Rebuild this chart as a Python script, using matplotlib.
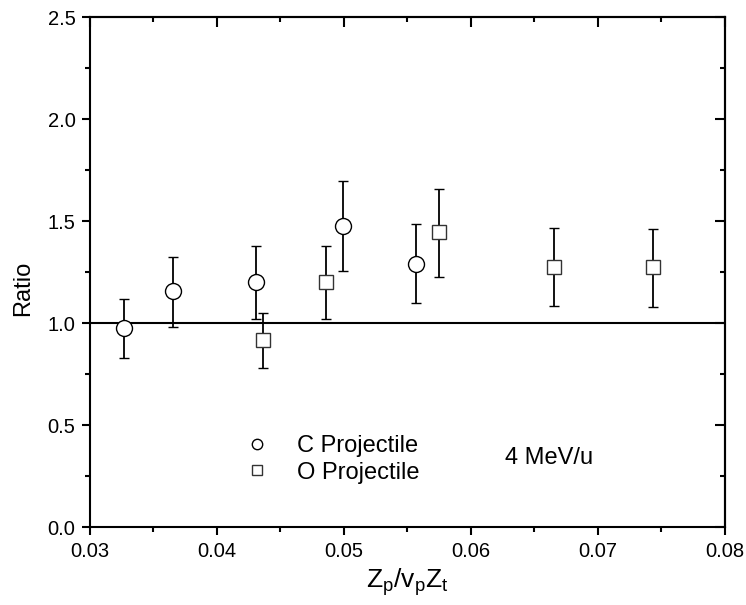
import matplotlib
matplotlib.use("Agg")
import matplotlib.pyplot as plt
from matplotlib.ticker import MultipleLocator

plt.rcParams["font.family"] = ["Liberation Sans", "DejaVu Sans"]
plt.rcParams["mathtext.default"] = "regular"
plt.rcParams["xtick.labelsize"] = 14.5
plt.rcParams["ytick.labelsize"] = 14.5

# C projectile
c_x = [0.0327, 0.0365, 0.0431, 0.0499, 0.0557]
c_y = [0.974, 1.155, 1.201, 1.477, 1.291]
c_lo = [0.828, 0.980, 1.020, 1.256, 1.100]
c_hi = [1.118, 1.325, 1.379, 1.698, 1.484]

# O projectile
o_x = [0.0436, 0.0486, 0.0575, 0.0665, 0.0743]
o_y = [0.915, 1.201, 1.445, 1.275, 1.273]
o_lo = [0.778, 1.020, 1.225, 1.083, 1.078]
o_hi = [1.050, 1.379, 1.657, 1.464, 1.461]

ref_level = 1.0
x_ticks = [0.03, 0.04, 0.05, 0.06, 0.07, 0.08]
y_ticks = [0.0, 0.5, 1.0, 1.5, 2.0, 2.5]


def err(y, lo, hi):
    return [[v - l for v, l in zip(y, lo)], [h - v for v, h in zip(y, hi)]]


def main():
    fig = plt.figure(figsize=(7.46, 6.05), dpi=100)
    ax = fig.add_axes([0.1206, 0.1289, 0.8512, 0.843])

    ax.axhline(ref_level, color="k", linewidth=1.5, zorder=1)

    c_eb = ax.errorbar(
        c_x, c_y, yerr=err(c_y, c_lo, c_hi),
        fmt="o", markersize=11.5, markerfacecolor="white", markeredgecolor="k",
        markeredgewidth=1.0, ecolor="k", elinewidth=1.3, capsize=3.6,
        capthick=1.3, zorder=3,
    )
    o_eb = ax.errorbar(
        o_x, o_y, yerr=err(o_y, o_lo, o_hi),
        fmt="s", markersize=10, markerfacecolor="white", markeredgecolor="#333333",
        markeredgewidth=1.0, ecolor="k", elinewidth=1.3, capsize=3.6,
        capthick=1.3, zorder=3,
    )

    ax.set_xlim(0.03, 0.08)
    ax.set_ylim(0.0, 2.5)
    ax.set_xticks(x_ticks)
    ax.set_yticks(y_ticks)
    ax.xaxis.set_minor_locator(MultipleLocator(0.005))
    ax.yaxis.set_minor_locator(MultipleLocator(0.25))
    ax.set_xticklabels([f"{v:.2f}" for v in x_ticks])
    ax.set_yticklabels([f"{v:.1f}" for v in y_ticks])

    ax.tick_params(which="both", direction="out", top=False, right=False,
                   width=1.5, pad=4.5, labelsize=14.5)
    ax.tick_params(which="major", length=6)
    ax.tick_params(which="minor", length=3.6)
    for s in ax.spines.values():
        s.set_linewidth(1.5)

    # inward ticks on top and right
    top = ax.secondary_xaxis("top")
    top.set_xticks(x_ticks)
    top.xaxis.set_minor_locator(MultipleLocator(0.005))
    top.tick_params(which="both", direction="in", labeltop=False, width=1.5)
    top.tick_params(which="major", length=7)
    top.tick_params(which="minor", length=3.6)
    top.spines["top"].set_linewidth(1.5)
    right = ax.secondary_yaxis("right")
    right.set_yticks(y_ticks)
    right.yaxis.set_minor_locator(MultipleLocator(0.25))
    right.tick_params(which="both", direction="in", labelright=False, width=1.5)
    right.tick_params(which="major", length=7)
    right.tick_params(which="minor", length=3.6)
    right.spines["right"].set_linewidth(1.5)

    ax.set_xlabel("$Z_p/v_pZ_t$", fontsize=19)
    ax.xaxis.set_label_coords(0.5, -0.078)
    ax.set_ylabel("Ratio", fontsize=17)
    ax.yaxis.set_label_coords(-0.088, 0.467)

    ax.legend(
        [c_eb[0], o_eb[0]], ["C Projectile", "O Projectile"],
        loc="center left", bbox_to_anchor=(0.244, 0.133), frameon=False,
        fontsize=17, markerscale=0.65, handlelength=1.0, handletextpad=1.2,
        borderpad=0, borderaxespad=0, labelspacing=0.2,
    )

    ax.text(0.654, 0.135, "4 MeV/u", transform=ax.transAxes, fontsize=17,
            ha="left", va="center")

    fig.savefig("out.png", dpi=100)


if __name__ == "__main__":
    main()
